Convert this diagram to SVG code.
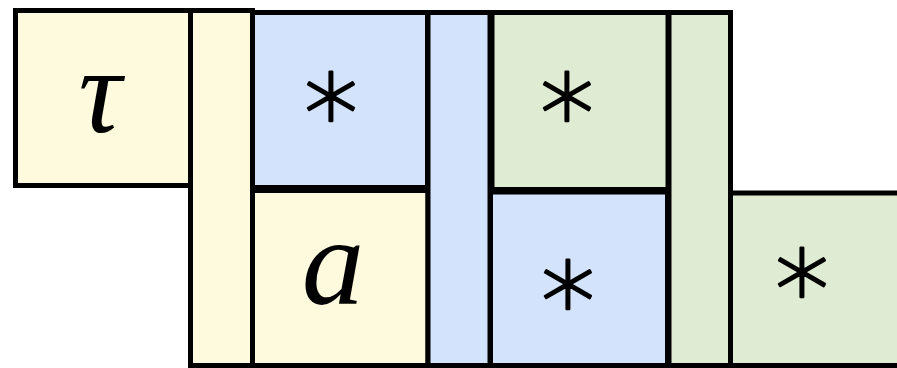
<svg xmlns="http://www.w3.org/2000/svg" width="897" height="368" viewBox="0 0 897 368">
<style>
.c{stroke:#000;stroke-width:5;stroke-linejoin:miter}
.y{fill:#FEFADE}
.b{fill:#D4E3FC}
.g{fill:#E0EBD4}
.m{font-family:"Liberation Serif","DejaVu Serif",serif;font-style:italic;fill:#000;text-anchor:middle}
.s{font-family:"DejaVu Sans ExtraLight","DejaVu Sans",sans-serif;font-weight:200;fill:#000;stroke:#000;stroke-width:2.5;stroke-linecap:round;stroke-linejoin:round;text-anchor:middle}
</style>
<rect width="897" height="368" fill="#fff"/>
<g id="tau"><rect class="c y" x="15.5" y="10.5" width="175" height="175"/><text class="m" x="100" y="132" font-size="120">τ</text></g>
<g id="bar-yellow"><rect class="c y" x="190.5" y="10.5" width="62" height="355"/></g>
<g id="star-blue-top"><rect class="c b" x="252.5" y="12.5" width="175" height="175"/><text class="s" x="331" y="130" font-size="108">∗</text></g>
<g id="a"><rect class="c y" x="252.5" y="190.5" width="175.5" height="175"/><text class="m" x="333" y="304" font-size="125">a</text></g>
<g id="bar-blue"><rect class="c b" x="428" y="12.5" width="62" height="353"/></g>
<g id="star-green-top"><rect class="c g" x="492" y="12.5" width="176" height="177"/><text class="s" x="567" y="130" font-size="108">∗</text></g>
<g id="star-blue-bottom"><rect class="c b" x="490.5" y="192" width="177" height="173.5"/><text class="s" x="568" y="318" font-size="108">∗</text></g>
<g id="bar-green"><rect class="c g" x="669" y="12.5" width="61.5" height="353"/></g>
<g id="star-green-right"><rect class="c g" x="730.5" y="193" width="175" height="172.5"/><text class="s" x="802" y="306" font-size="108">∗</text></g>
</svg>
